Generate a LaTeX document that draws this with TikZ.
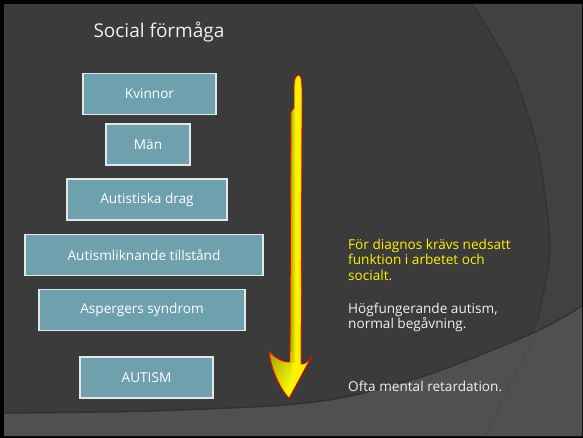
\documentclass[tikz,border=0pt]{standalone}
\usepackage{fontspec}
\setmainfont{Open Sans}
\usetikzlibrary{calc}

\definecolor{bgdark}{RGB}{59,59,59}
\definecolor{bgright}{RGB}{65,65,65}
\definecolor{bgband}{RGB}{80,80,80}
\definecolor{edgeline}{RGB}{50,50,50}
\definecolor{bandarc}{RGB}{72,72,72}
\definecolor{boxfill}{RGB}{110,160,174}
\definecolor{boxline}{RGB}{226,232,234}
\definecolor{arrowolive}{RGB}{150,150,0}
\definecolor{notewhite}{RGB}{240,240,240}

\begin{document}
\begin{tikzpicture}[x=1pt,y=-1pt,
  level/.style={draw=boxline, line width=1.2pt, fill=boxfill, text=white,
    font=\fontsize{13.6}{15}\selectfont, inner sep=0pt, minimum height=41pt},
  heading/.style={text=notewhite, font=\fontsize{19}{22}\selectfont, inner sep=0pt},
  note/.style={anchor=north west, align=left, inner sep=0pt,
    font=\fontsize{13.6}{15.5}\selectfont}]

% slide frame and background
\useasboundingbox (0,0) rectangle (583,438);
\fill[black] (0,0) rectangle (583,438);
\fill[bgdark] (4,4) rectangle (582,436);
% lighter sweep on the right, bounded by a large arc
\fill[bgright] plot[smooth] coordinates {(472,4) (513,73) (537,147) (548,220) (549,260) (538,320) (512,380) (486,436)}
  -- (582,436) -- (582,4) -- cycle;
\draw[edgeline, line width=1.2pt] plot[smooth] coordinates {(472,4) (513,73) (537,147) (548,220) (549,260) (538,320)};
% lower band
\fill[bgband] plot[smooth] coordinates {(4,413) (150,411) (283,405) (350,396) (433,373) (533,333) (582,306)}
  -- (582,436) -- (4,436) -- cycle;
\draw[edgeline, line width=1.5pt] plot[smooth] coordinates {(4,413) (150,411) (283,405) (350,396) (433,373) (533,333) (582,306)};
\draw[bandarc, line width=0.8pt] plot[smooth] coordinates {(538,331) (512,380) (486,436)};

% title
\node[heading] (title) at (159,32) {Social förmåga};

% stacked levels
\node[level, minimum width=133pt] (kvinnor) at (149.5,94)  {Kvinnor};
\node[level, minimum width=84pt]  (man)     at (148,144.5) {Män};
\node[level, minimum width=160pt] (drag)    at (147,199.5) {Autistiska drag};
\node[level, minimum width=238pt] (likn)    at (144,255)   {Autismliknande tillstånd};
\node[level, minimum width=206pt] (asp)     at (142,310)   {Aspergers syndrom};
\node[level, minimum width=133pt] (autism)  at (146.5,377.5) {AUTISM};

% downward arrow
\def\arrowpath{(299,75) .. controls (296,75) and (294,79) .. (294,86) -- (294,108) -- (291,112) -- (290,362)
  .. controls (283,363) and (273,357) .. (269,351)
  .. controls (271,370) and (281,390) .. (289,398)
  .. controls (296,386) and (305,368) .. (312,356)
  .. controls (308,362) and (304,365) .. (301,364)
  -- (302,100) .. controls (302,85) and (302,76) .. (299,75) -- cycle}
\fill[yellow] \arrowpath;
\begin{scope}
  \clip \arrowpath;
  \shade[left color=arrowolive, right color=yellow] (289,70) rectangle (296,362);
  \shade[left color=arrowolive!80!yellow, right color=yellow, shading angle=60] (266,352) rectangle (292,400);
\end{scope}
\draw[red, line width=0.8pt, line join=round] \arrowpath;

% notes on the right
\node[note, text=yellow] (krav) at (348,238.5) {För diagnos krävs nedsatt\\funktion i arbetet och\\socialt.};
\node[note, text=notewhite] (hog) at (348,302.5) {Högfungerande autism,\\normal begåvning.};
\node[note, text=notewhite] (ofta) at (348,381) {Ofta mental retardation.};
\end{tikzpicture}
\end{document}
